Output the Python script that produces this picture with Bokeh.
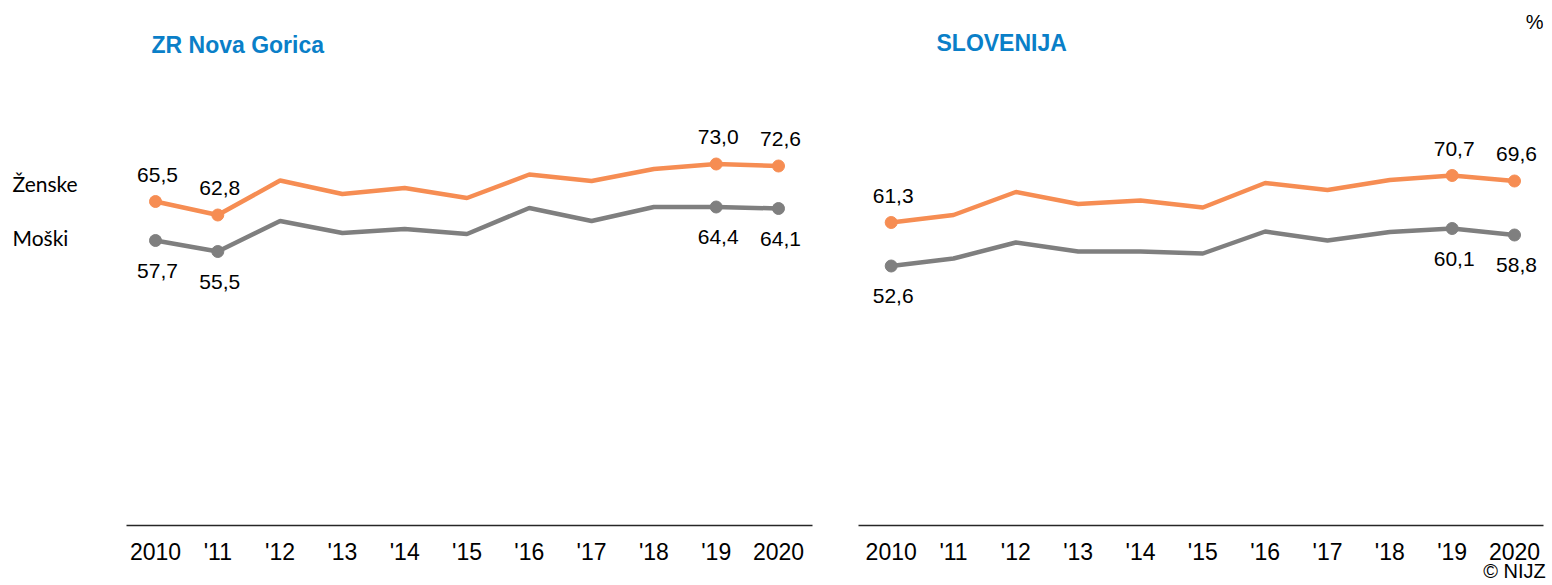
from bokeh.plotting import figure
from bokeh.models import Range1d, FixedTicker, ColumnDataSource, Label, LinearAxis
from bokeh.layouts import row
from bokeh.embed import file_html
from bokeh.resources import INLINE
from bokeh.core.properties import value

# ---------------- data ----------------
years = [2010, 2011, 2012, 2013, 2014, 2015, 2016, 2017, 2018, 2019, 2020]
tick_labels = ["2010", "'11", "'12", "'13", "'14", "'15", "'16", "'17", "'18", "'19", "2020"]

ng_women = [65.5, 62.8, 69.7, 67.0, 68.2, 66.2, 70.9, 69.6, 72.0, 73.0, 72.6]
ng_men = [57.7, 55.5, 61.6, 59.2, 60.0, 59.0, 64.2, 61.6, 64.4, 64.4, 64.1]
si_women = [61.3, 62.8, 67.4, 65.0, 65.7, 64.3, 69.2, 67.8, 69.8, 70.7, 69.6]
si_men = [52.6, 54.1, 57.3, 55.5, 55.5, 55.1, 59.5, 57.7, 59.4, 60.1, 58.8]

ng_labeled_years = [2010, 2011, 2019, 2020]
si_labeled_years = [2010, 2019, 2020]

series_names = ["Ženske", "Moški"]
series_name_levels = [69.1, 58.3]   # vertical position of the side labels (value scale)
titles = ["ZR Nova Gorica", "SLOVENIJA"]
source_note = "© NIJZ"

ORANGE = "#F68D53"
GREY = "#7F7F7F"
BLUE = "#0A7FC8"
FONT = "Liberation Sans"
H = 585
BOTTOM = 60
Y_RANGE = (0.7, 105.7)


def fmt(v):
    return f"{v:.1f}".replace(".", ",")


def base_fig(width, bl, br, xr):
    p = figure(width=width, height=H, output_backend="svg", toolbar_location=None,
               x_range=xr, y_range=Range1d(*Y_RANGE),
               min_border_left=bl, min_border_right=br,
               min_border_top=0, min_border_bottom=BOTTOM)
    p.outline_line_color = None
    p.grid.grid_line_color = None
    p.background_fill_color = "white"
    p.border_fill_color = "white"
    return p


def make_panel(width, bl, br, x_start, x_end, women, men, labeled):
    p = base_fig(width, bl, br, Range1d(x_start, x_end))
    p.yaxis.visible = False
    ax = p.xaxis[0]
    ax.ticker = FixedTicker(ticks=years)
    ax.major_label_overrides = {y: t for y, t in zip(years, tick_labels)}
    ax.axis_line_color = "#262626"
    ax.axis_line_width = 1.5
    ax.major_tick_line_color = None
    ax.minor_tick_line_color = None
    ax.major_tick_out = 0
    ax.major_tick_in = 0
    ax.major_label_text_font = FONT
    ax.major_label_text_font_size = "23px"
    ax.major_label_text_color = "black"
    ax.major_label_standoff = 13

    p.line(years, women, line_color=ORANGE, line_width=4.5)
    p.line(years, men, line_color=GREY, line_width=4.5)

    w_lab = [women[years.index(y)] for y in labeled]
    m_lab = [men[years.index(y)] for y in labeled]
    sw = ColumnDataSource(dict(x=labeled, y=w_lab, t=[fmt(v) for v in w_lab]))
    sm = ColumnDataSource(dict(x=labeled, y=m_lab, t=[fmt(v) for v in m_lab]))
    p.scatter("x", "y", source=sw, size=12, fill_color=ORANGE, line_color=ORANGE)
    p.scatter("x", "y", source=sm, size=12, fill_color=GREY, line_color=GREY)
    for src, off in ((sw, -27), (sm, 30)):
        p.text("x", "y", text="t", source=src, y_offset=off, x_offset=2,
               text_align="center", text_baseline="middle",
               text_font=value(FONT), text_font_size="21px", text_color="black")
    return p


def ypx(py):
    return (528.5 - py) / 5.0


# side panel with series names (0..126 px)
p0 = base_fig(126, 0, 0, Range1d(0, 126))
p0.xaxis.visible = False
p0.yaxis.visible = False
p0.text(x=[12, 12], y=series_name_levels, text=series_names, text_align="left",
        text_baseline="middle", text_font=value("Lato"), text_font_size="21px",
        text_color="black")

# left panel: frame 126..812 px, 62.3 px per year
L_PX = 62.3
l_start = 2010 - 29 / L_PX
p1 = make_panel(709, 0, 23, l_start, l_start + 686 / L_PX, ng_women, ng_men, ng_labeled_years)

# right panel: frame 858..1543 px
R_PX = 62.33
r_start = 2010 - 32.7 / R_PX
r_end = r_start + 685 / R_PX
p2 = make_panel(717, 23, 9, r_start, r_end, si_women, si_men, si_labeled_years)


def lx(px):
    return l_start + (px - 126) / L_PX


def rx(px):
    return r_start + (px - 858) / R_PX


p1.add_layout(Label(x=lx(151), y=ypx(44), text=titles[0], text_font=FONT, text_font_size="23px",
                    text_font_style="bold", text_color=BLUE, text_baseline="middle"))
p2.add_layout(Label(x=rx(936), y=ypx(42), text=titles[1], text_font=FONT, text_font_size="23px",
                    text_font_style="bold", text_color=BLUE, text_baseline="middle"))

p2.add_layout(Label(x=r_end, y=ypx(21), text="%", text_font=FONT, text_font_size="20px",
                    text_color="black", text_baseline="middle", text_align="right"))

# source note as a second, line-less axis below the year axis
note_axis = LinearAxis(ticker=FixedTicker(ticks=[2020]), major_label_overrides={2020: source_note},
                       axis_line_color=None, major_tick_line_color=None, minor_tick_line_color=None,
                       major_tick_out=0, major_tick_in=0, major_label_standoff=-8,
                       major_label_text_font=FONT, major_label_text_font_size="20px",
                       major_label_text_color="black")
p2.add_layout(note_axis, "below")

layout = row(p0, p1, p2, spacing=0)
open("out.html", "w").write(file_html(layout, INLINE))
